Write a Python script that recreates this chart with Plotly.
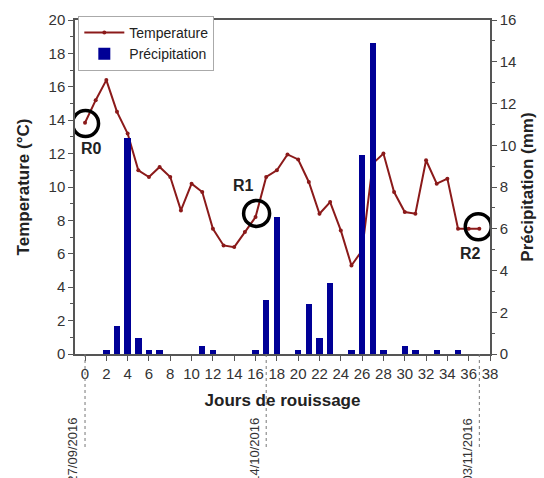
import plotly.graph_objects as go

days = list(range(38))
temperature = [13.85, 15.2, 16.4, 14.5, 13.2, 11.0, 10.6, 11.2, 10.6, 8.6,
               10.2, 9.7, 7.5, 6.5, 6.4, 7.3, 8.2, 10.6, 11.0, 11.95,
               11.65, 10.3, 8.4, 9.1, 7.4, 5.3, 6.2, 11.4, 12.0, 9.7,
               8.5, 8.4, 11.6, 10.2, 10.5, 7.5, 7.5, 7.5]

precip_days = [2, 3, 4, 5, 6, 7, 11, 12, 16, 17, 18, 20, 21, 22, 23, 25, 26, 27, 28, 30, 31, 33, 35]
precip_mm = [0.2, 1.35, 10.35, 0.78, 0.2, 0.2, 0.38, 0.2, 0.2, 2.57, 6.58, 0.2, 2.38, 0.78, 3.39, 0.2, 9.55, 14.9, 0.2, 0.38, 0.2, 0.2, 0.2]

marker_names = ["R0", "R1", "R2"]
marker_days = [0.05, 16.1, 36.9]
marker_temps = [13.8, 8.42, 7.62]
label_days = [0.65, 14.9, 36.2]
label_temps = [12.3, 10.1, 6.0]

date_days = [0, 17, 37]
date_labels = ["27/09/2016", "14/10/2016", "03/11/2016"]

x_ticks = list(range(0, 39, 2))

FONT = "Liberation Sans, Arial, sans-serif"
AXIS_COLOR = "#555555"
TEXT_COLOR = "#333333"

fig = go.Figure()

fig.add_trace(go.Scatter(
    x=days, y=temperature, name="Temperature", mode="lines+markers",
    line=dict(color="#8B1A1A", width=2),
    marker=dict(color="#8B1A1A", size=4),
    yaxis="y",
))

fig.add_trace(go.Bar(
    x=precip_days, y=precip_mm, name="Précipitation",
    marker=dict(color="#000096", line=dict(width=0)),
    width=0.6, yaxis="y2",
))

fig.add_trace(go.Scatter(
    x=marker_days, y=marker_temps, mode="markers", showlegend=False,
    marker=dict(symbol="circle-open", size=26, color="black", line=dict(width=3.5, color="black")),
    yaxis="y", hoverinfo="skip",
))

for name, xd, yd in zip(marker_names, label_days, label_temps):
    fig.add_annotation(x=xd, y=yd, xref="x", yref="y", text="<b>%s</b>" % name,
                       showarrow=False, font=dict(family=FONT, size=16, color="#222222"))

for d, lab in zip(date_days, date_labels):
    fig.add_shape(type="line", xref="x", yref="paper", x0=d, x1=d, y0=0, y1=-0.281,
                  line=dict(color="#777777", width=1, dash="dot"))
    fig.add_annotation(x=d, y=-0.186, xref="x", yref="paper", text=lab, textangle=-90,
                       showarrow=False, xanchor="center", yanchor="top", xshift=-12,
                       font=dict(family=FONT, size=13, color=TEXT_COLOR))

fig.update_layout(
    width=544, height=478,
    margin=dict(l=75, r=54, t=20, b=124),
    paper_bgcolor="white", plot_bgcolor="white",
    font=dict(family=FONT, size=15, color=TEXT_COLOR),
    bargap=0,
    xaxis=dict(
        range=[-0.94, 38], tickvals=x_ticks, ticks="outside", ticklen=5, tickwidth=1.2,
        tickcolor=AXIS_COLOR, showline=True, linecolor=AXIS_COLOR, linewidth=1.5,
        mirror=True, showgrid=False, zeroline=False, automargin=False,
        tickfont=dict(size=15, color=TEXT_COLOR),
        title=dict(text="<b>Jours de rouissage</b>", font=dict(size=17, color="#222222"), standoff=13),
    ),
    yaxis=dict(
        range=[0, 20], dtick=2, ticks="outside", ticklen=5, tickwidth=1.2, tickcolor=AXIS_COLOR,
        showline=True, linecolor=AXIS_COLOR, linewidth=1.5, showgrid=False, zeroline=False,
        automargin=False,
        minor=dict(dtick=1, ticks="outside", ticklen=3, tickcolor=AXIS_COLOR),
        tickfont=dict(size=15, color=TEXT_COLOR),
        title=dict(text="<b>Temperature (°C)</b>", font=dict(size=17, color="#222222"), standoff=15),
    ),
    yaxis2=dict(
        range=[0, 16], dtick=2, ticks="outside", ticklen=5, tickwidth=1.2, tickcolor=AXIS_COLOR,
        overlaying="y", side="right", automargin=False,
        showline=True, linecolor=AXIS_COLOR, linewidth=1.5, showgrid=False, zeroline=False,
        minor=dict(dtick=1, ticks="outside", ticklen=3, tickcolor=AXIS_COLOR),
        tickfont=dict(size=15, color=TEXT_COLOR),
        title=dict(text="<b>Précipitation (mm)</b>", font=dict(size=17, color="#222222"), standoff=6),
    ),
    legend=dict(
        x=0.008, y=1.012, xanchor="left", yanchor="top",
        bgcolor="white", bordercolor="#AAAAAA", borderwidth=1,
        font=dict(size=14, color="#222222"), itemwidth=40,
        tracegroupgap=0,
    ),
)

fig.write_html("out.html")
